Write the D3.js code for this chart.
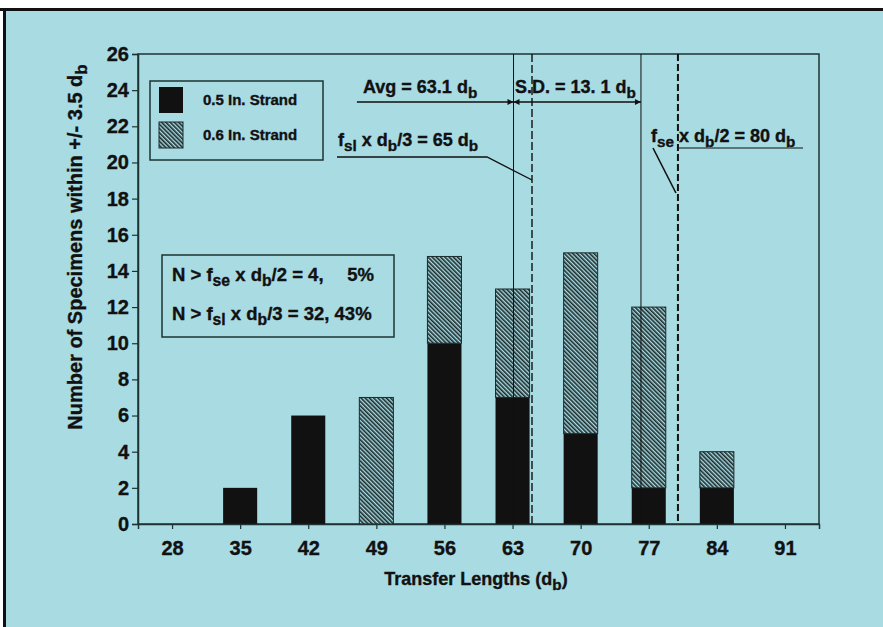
<!DOCTYPE html>
<html><head><meta charset="utf-8">
<script src="https://cdn.jsdelivr.net/npm/d3@7"></script>
<style>body{margin:0;background:#fff}svg{display:block}text{font-family:"Liberation Sans",Arial,Helvetica,sans-serif;font-weight:bold;fill:#111;stroke:#111;stroke-width:0.35px}</style>
</head><body>
<script>
const categories = [28, 35, 42, 49, 56, 63, 70, 77, 84, 91];
const strand05 = [0, 2, 6, 0, 10, 7, 5, 2, 2, 0];
const strand06 = [0, 0, 0, 7, 4.8, 6, 10, 10, 2, 0];
const yTicks = [0,2,4,6,8,10,12,14,16,18,20,22,24,26];
const avg = 63.1, sd = 13.1, fsl = 65, fse = 80;

const W = 883, H = 627;
const svg = d3.select("body").append("svg").attr("width", W).attr("height", H);
const defs = svg.append("defs");
const pat = defs.append("pattern").attr("id","hatch").attr("patternUnits","userSpaceOnUse")
  .attr("width",3).attr("height",3).attr("patternTransform","rotate(-45)");
pat.append("rect").attr("width",3).attr("height",3).attr("fill","#a9dbe3");
pat.append("rect").attr("width",1.6).attr("height",3).attr("fill","#1c2a2a");

// page background and frame
svg.append("rect").attr("x",0).attr("y",0).attr("width",W).attr("height",H).attr("fill","#fff");
svg.append("rect").attr("x",5).attr("y",10).attr("width",W-5).attr("height",H-10).attr("fill","#a9dbe3");
svg.append("line").attr("x1",0).attr("x2",W).attr("y1",9.5).attr("y2",9.5).attr("stroke","#111").attr("stroke-width",3);
svg.append("line").attr("x1",4.5).attr("x2",4.5).attr("y1",9).attr("y2",H).attr("stroke","#111").attr("stroke-width",3);

const x = d3.scaleLinear().domain([24.5, 94.5]).range([138, 819]);
const y = d3.scaleLinear().domain([0, 26]).range([524, 54]);
const bw = x(3.5) - x(0);
const dark = "#1e3432";

// plot frame
svg.append("rect").attr("x",x(24.5)).attr("y",y(26)).attr("width",x(94.5)-x(24.5)).attr("height",y(0)-y(26))
  .attr("fill","none").attr("stroke",dark).attr("stroke-width",1.5);

// bars
const data = categories.map((c,i)=>({c, a:strand05[i], b:strand06[i]}));
svg.selectAll(".b05").data(data.filter(d=>d.a>0)).join("rect")
  .attr("x",d=>x(d.c)-bw/2).attr("width",bw).attr("y",d=>y(d.a)).attr("height",d=>y(0)-y(d.a)).attr("fill","#111");
svg.selectAll(".b06").data(data.filter(d=>d.b>0)).join("rect")
  .attr("x",d=>x(d.c)-bw/2).attr("width",bw).attr("y",d=>y(d.a+d.b)).attr("height",d=>y(d.a)-y(d.a+d.b))
  .attr("fill","url(#hatch)").attr("stroke","#1c2a2a").attr("stroke-width",1);

// axes
const yAxis = svg.append("g").attr("transform",`translate(${x(24.5)},0)`)
  .call(d3.axisLeft(y).tickValues(yTicks).tickSize(6).tickPadding(3));
const xAxis = svg.append("g").attr("transform",`translate(0,${y(0)})`)
  .call(d3.axisBottom(x).tickValues(categories).tickSize(5));
[yAxis,xAxis].forEach(g=>{
  g.select(".domain").attr("stroke",dark).attr("stroke-width",1.5);
  g.selectAll(".tick line").attr("stroke",dark).attr("stroke-width",1.2);
  g.selectAll("text").style("font-size","20px").attr("fill","#111").style("font-family","Liberation Sans, Arial, sans-serif").style("font-weight","bold");
});
xAxis.selectAll("text").attr("y",17).attr("dy","0.71em");

// vertical reference lines
const vl = (v,dash,w)=>svg.append("line").attr("x1",x(v)).attr("x2",x(v)).attr("y1",y(26)).attr("y2",y(0))
  .attr("stroke","#111").attr("stroke-width",w).attr("stroke-dasharray",dash);
vl(avg,null,1);
vl(fsl,"8,3",1.4);
vl(avg+sd,null,1);
vl(fse,"7,3",2);

// arrows
const mk = (id,orient)=>defs.append("marker").attr("id",id).attr("viewBox","0 0 10 10").attr("refX",10).attr("refY",5)
  .attr("markerWidth",9).attr("markerHeight",6).attr("orient",orient).attr("markerUnits","userSpaceOnUse")
  .append("path").attr("d","M0,0L10,5L0,10z").attr("fill","#111");
mk("arr","auto"); mk("arrs","auto-start-reverse");
const ay = 102;
svg.append("line").attr("x1",x(47)).attr("x2",x(avg)).attr("y1",ay).attr("y2",ay).attr("stroke","#111").attr("stroke-width",1.3).attr("marker-end","url(#arr)");
svg.append("line").attr("x1",x(avg)).attr("x2",x(avg+sd)).attr("y1",ay).attr("y2",ay).attr("stroke","#111").attr("stroke-width",1.3)
  .attr("marker-end","url(#arr)").attr("marker-start","url(#arrs)");

// sub-scripted text helper
function rich(g, px, py, parts, size, anchor){
  const t = g.append("text").attr("x",px).attr("y",py).attr("font-size",size).attr("text-anchor",anchor||"start");
  parts.forEach(p=>{
    if(typeof p==="string") t.append("tspan").text(p);
    else { t.append("tspan").attr("font-size",size*0.85).attr("dy",size*0.25).text(p.s);
           t.append("tspan").attr("dy",-size*0.25).text(p.after||""); }
  });
  return t;
}
rich(svg, 363, 93, ["Avg = 63.1 d",{s:"b"}], 18);
rich(svg, 515, 93, ["S.D. = 13. 1 d",{s:"b"}], 18);
rich(svg, 338, 146, ["f",{s:"sl", after:" x d"},{s:"b", after:"/3 = 65 d"},{s:"b"}], 18);
rich(svg, 651, 142, ["f",{s:"se", after:" x d"},{s:"b", after:"/2 = 80 d"},{s:"b"}], 18);

// annotation leader lines
svg.append("path").attr("d",`M337,157L487,157L${x(fsl)},180`).attr("fill","none").attr("stroke","#111").attr("stroke-width",1.4);
svg.append("path").attr("d",`M653,148L${x(fse)-2},193`).attr("fill","none").attr("stroke","#111").attr("stroke-width",1.6);
svg.append("line").attr("x1",677).attr("x2",803).attr("y1",148).attr("y2",148).attr("stroke","#111").attr("stroke-width",1.2);

// legend
svg.append("rect").attr("x",150).attr("y",81).attr("width",173).attr("height",79).attr("fill","none").attr("stroke",dark).attr("stroke-width",1.5);
svg.append("rect").attr("x",159).attr("y",87).attr("width",24).attr("height",26).attr("fill","#111");
svg.append("rect").attr("x",159).attr("y",122).attr("width",24).attr("height",26).attr("fill","url(#hatch)").attr("stroke","#1c2a2a").attr("stroke-width",1);
svg.append("text").attr("x",203).attr("y",105).attr("font-size",15).text("0.5 In. Strand");
svg.append("text").attr("x",203).attr("y",140).attr("font-size",15).text("0.6 In. Strand");

// stats box
svg.append("rect").attr("x",162).attr("y",255).attr("width",232).attr("height",82).attr("fill","none").attr("stroke",dark).attr("stroke-width",1.5);
rich(svg, 172, 281, ["N > f",{s:"se", after:" x d"},{s:"b", after:"/2 = 4,"}], 18.5);
svg.append("text").attr("x",374).attr("y",281).attr("font-size",18.5).attr("text-anchor","end").text("5%");
rich(svg, 172, 320, ["N > f",{s:"sl", after:" x d"},{s:"b", after:"/3 = 32, 43%"}], 18.5);

// axis titles
rich(svg, 476, 585, ["Transfer Lengths (d",{s:"b", after:")"}], 18, "middle");
const yl = rich(svg, 0, 0, ["Number of Specimens within +/- 3.5 d",{s:"b"}], 20, "middle");
yl.attr("transform","translate(82,247) rotate(-90)");
</script>
</body></html>
